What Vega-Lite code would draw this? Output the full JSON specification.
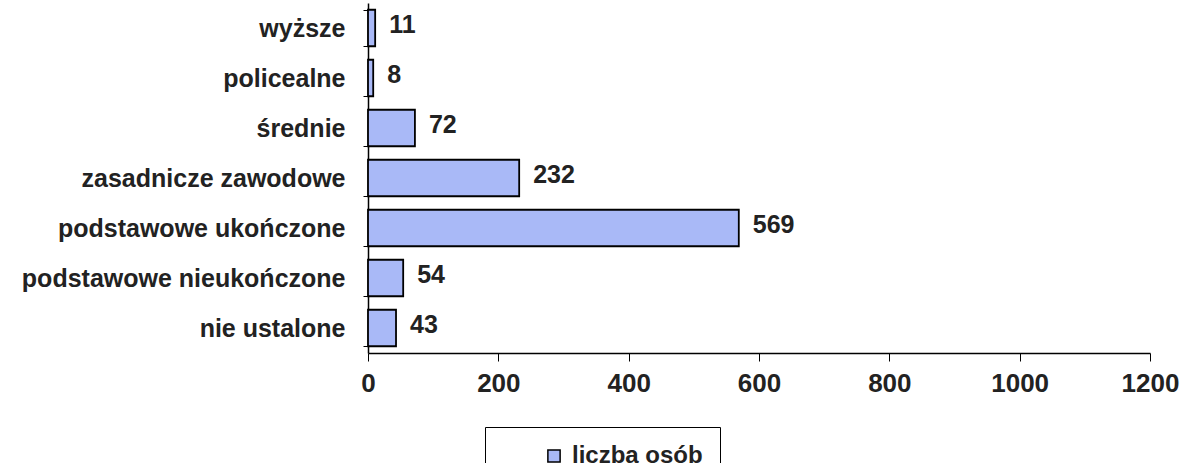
{
  "$schema": "https://vega.github.io/schema/vega-lite/v6.json",
  "autosize": {"type": "none"},
  "padding": {"left": 368, "top": 3, "right": 30, "bottom": 110},
  "width": 782,
  "height": 350,
  "background": "white",
  "config": {
    "view": {"stroke": null},
    "font": "Liberation Sans"
  },
  "data": {
    "values": [
      {"kategoria": "wyższe", "liczba": 11, "seria": "liczba osób"},
      {"kategoria": "policealne", "liczba": 8, "seria": "liczba osób"},
      {"kategoria": "średnie", "liczba": 72, "seria": "liczba osób"},
      {"kategoria": "zasadnicze zawodowe", "liczba": 232, "seria": "liczba osób"},
      {"kategoria": "podstawowe ukończone", "liczba": 569, "seria": "liczba osób"},
      {"kategoria": "podstawowe nieukończone", "liczba": 54, "seria": "liczba osób"},
      {"kategoria": "nie ustalone", "liczba": 43, "seria": "liczba osób"}
    ]
  },
  "encoding": {
    "y": {
      "field": "kategoria",
      "type": "nominal",
      "sort": null,
      "scale": {"paddingInner": 0.27, "paddingOuter": 0.135},
      "axis": {
        "title": null,
        "tickBand": "extent",
        "tickSize": 5,
        "tickColor": "#000",
        "domainColor": "#000",
        "domainWidth": 1.5,
        "labelFont": "Liberation Sans",
        "labelFontSize": 25,
        "labelFontWeight": "bold",
        "labelColor": "#222",
        "labelPadding": 18,
        "labelLimit": 400
      }
    },
    "x": {
      "field": "liczba",
      "type": "quantitative",
      "scale": {"domain": [0, 1200]},
      "axis": {
        "title": null,
        "values": [0, 200, 400, 600, 800, 1000, 1200],
        "format": "d",
        "labelFlush": false,
        "grid": false,
        "tickSize": 8,
        "tickColor": "#000",
        "domainColor": "#000",
        "domainWidth": 1.5,
        "labelFont": "Liberation Sans",
        "labelFontSize": 26,
        "labelFontWeight": "bold",
        "labelColor": "#222",
        "labelPadding": 9
      }
    }
  },
  "layer": [
    {
      "mark": {"type": "bar", "stroke": "#000", "strokeWidth": 1.8},
      "encoding": {
        "color": {
          "field": "seria",
          "type": "nominal",
          "scale": {"range": ["#a9b9f7"]},
          "legend": {
            "title": null,
            "orient": "none",
            "legendX": 117,
            "legendY": 424,
            "strokeColor": "#000",
            "padding": 17,
            "symbolType": "square",
            "symbolSize": 150,
            "symbolStrokeColor": "#000",
            "symbolStrokeWidth": 1.5,
            "symbolOffset": 40,
            "labelFont": "Liberation Sans",
            "labelFontSize": 24,
            "labelFontWeight": "bold",
            "labelColor": "#222",
            "labelOffset": 6
          }
        }
      }
    },
    {
      "mark": {
        "type": "text",
        "align": "left",
        "baseline": "middle",
        "dx": 14,
        "dy": -3,
        "font": "Liberation Sans",
        "fontSize": 25,
        "fontWeight": "bold",
        "color": "#222"
      },
      "encoding": {
        "text": {"field": "liczba", "type": "quantitative"}
      }
    }
  ]
}
